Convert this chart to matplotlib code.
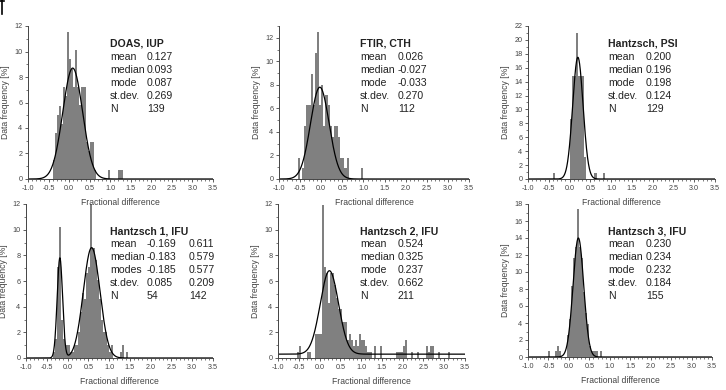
import matplotlib
matplotlib.use("Agg")
import matplotlib.pyplot as plt
import numpy as np
from matplotlib.ticker import MultipleLocator
from matplotlib.lines import Line2D

plt.rcParams['font.family'] = ['Liberation Sans', 'DejaVu Sans']

BIN = 0.05

# ---- Panel data (bin left edges, frequency %) ----
p1_left = [-0.40, -0.35, -0.30, -0.25, -0.20, -0.15, -0.10, -0.05, 0.00, 0.05, 0.10,
           0.15, 0.20, 0.25, 0.30, 0.35, 0.40, 0.45, 0.50, 0.55, 0.60, 0.95, 1.20, 1.25]
p1_freq = [1.5, 3.6, 5.0, 5.7, 4.3, 7.2, 6.5, 11.5, 9.4, 8.6, 7.2,
           10.1, 7.2, 5.8, 7.2, 7.2, 2.9, 2.2, 2.9, 2.9, 0.7, 0.7, 0.7, 0.7]

p2_left = [-0.55, -0.45, -0.40, -0.35, -0.30, -0.25, -0.20, -0.15, -0.10, -0.05, 0.00,
           0.05, 0.10, 0.15, 0.20, 0.25, 0.30, 0.35, 0.40, 0.45, 0.50, 0.55, 0.60, 0.95]
p2_freq = [1.8, 0.9, 4.5, 6.3, 6.3, 8.9, 6.3, 10.7, 12.5, 6.3, 8.0,
           4.5, 7.1, 6.3, 4.5, 3.6, 4.5, 4.5, 3.6, 1.8, 1.8, 0.9, 1.8, 0.9]

p3_left = [-0.40, 0.00, 0.05, 0.10, 0.15, 0.20, 0.25, 0.30, 0.35, 0.60, 0.80]
p3_freq = [0.8, 8.6, 14.8, 14.8, 21.0, 14.8, 14.8, 14.8, 3.1, 0.8, 0.8]

p4_left = [-0.35, -0.30, -0.25, -0.20, -0.15, -0.10, -0.05, 0.00, 0.05, 0.10, 0.15,
           0.20, 0.25, 0.30, 0.35, 0.40, 0.45, 0.50, 0.55, 0.60, 0.65, 0.70, 0.75,
           0.80, 0.85, 0.90, 0.95, 1.00, 1.05, 1.25, 1.30, 1.40]
p4_freq = [0.5, 1.5, 7.1, 10.2, 3.0, 1.5, 1.0, 1.0, 0.5, 0.5, 1.0,
           1.0, 2.0, 3.6, 5.1, 4.6, 6.6, 7.1, 12.0, 8.6, 7.6, 6.1, 4.6,
           3.0, 2.0, 2.0, 1.0, 0.5, 1.0, 0.5, 1.0, 0.5]

p5_left = [-0.55, -0.50, -0.30, -0.25, -0.10, -0.05, 0.00, 0.05, 0.10, 0.15, 0.20,
           0.25, 0.30, 0.35, 0.40, 0.45, 0.50, 0.55, 0.60, 0.65, 0.70, 0.75, 0.80,
           0.85, 0.90, 0.95, 1.00, 1.05, 1.10, 1.15, 1.20, 1.30, 1.45, 1.85, 1.90,
           1.95, 2.00, 2.05, 2.20, 2.35, 2.55, 2.60, 2.65, 2.70, 2.85, 3.10]
p5_freq = [0.5, 0.9, 0.5, 0.5, 1.9, 1.9, 1.9, 11.9, 7.1, 6.6, 4.3,
           6.6, 6.6, 5.7, 4.7, 3.8, 3.8, 2.8, 2.8, 1.4, 1.9, 1.4, 0.9,
           1.4, 0.9, 1.9, 1.4, 1.4, 0.9, 0.5, 0.5, 0.9, 0.9, 0.5, 0.5,
           0.5, 0.9, 1.4, 0.5, 0.5, 0.9, 0.5, 0.9, 0.9, 0.5, 0.5]

p6_left = [-0.50, -0.35, -0.30, -0.25, -0.05, 0.00, 0.05, 0.10, 0.15, 0.20, 0.25,
           0.30, 0.35, 0.40, 0.45, 0.50, 0.55, 0.60, 0.65, 0.75]
p6_freq = [0.65, 0.65, 1.3, 0.65, 2.6, 4.5, 8.4, 11.6, 12.9, 17.4, 12.9,
           11.6, 7.7, 5.2, 3.9, 1.3, 0.65, 0.65, 0.65, 0.65]

# Gaussian fits: (center, amplitude, sigma, offset)
fit1 = [(0.087, 8.7, 0.24, 0.0)]
fit2 = [(-0.033, 7.8, 0.22, 0.0)]
fit3 = [(0.200, 17.5, 0.125, 0.0)]
fit4 = [(-0.185, 7.8, 0.065, 0.0), (0.58, 8.6, 0.20, 0.0)]
fit5 = [(0.237, 6.5, 0.22, 0.3)]
fit6 = [(0.232, 14.0, 0.13, 0.0)]

titles = ["DOAS, IUP", "FTIR, CTH", "Hantzsch, PSI",
          "Hantzsch 1, IFU", "Hantzsch 2, IFU", "Hantzsch 3, IFU"]
stat_names = ["mean", "median", "mode", "st.dev.", "N"]
stat_names4 = ["mean", "median", "modes", "st.dev.", "N"]
stats1 = ["0.127", "0.093", "0.087", "0.269", "139"]
stats2 = ["0.026", "-0.027", "-0.033", "0.270", "112"]
stats3 = ["0.200", "0.196", "0.198", "0.124", "129"]
stats4a = ["-0.169", "-0.183", "-0.185", "0.085", "54"]
stats4b = ["0.611", "0.579", "0.577", "0.209", "142"]
stats5 = ["0.524", "0.325", "0.237", "0.662", "211"]
stats6 = ["0.230", "0.234", "0.232", "0.184", "155"]

ymax = [12, 13, 22, 12, 12, 18]

W, H = 726, 390
fig = plt.figure(figsize=(W / 100, H / 100), dpi=100)

# axes boxes in pixels: (left, right, top, bottom)
boxes = [(28, 213, 26, 179), (279, 469, 26, 179), (528, 715, 26, 179),
         (26, 213, 204, 358), (278, 465, 204, 358), (528, 712, 204, 357)]
# text anchor pixels: (title_x, title_y, values_x)
txtpos = [(110, 44, 147), (360, 44, 398), (608, 44, 646),
          (110, 231, 147), (360, 231, 398), (608, 231, 646)]

lefts = [p1_left, p2_left, p3_left, p4_left, p5_left, p6_left]
freqs = [p1_freq, p2_freq, p3_freq, p4_freq, p5_freq, p6_freq]
fits = [fit1, fit2, fit3, fit4, fit5, fit6]
stats = [stats1, stats2, stats3, stats4a, stats5, stats6]

bar_color = '#808080'
txt_color = '#222222'
ax_color = '#444444'
xs = np.linspace(-1.0, 3.5, 1200)

for i in range(6):
    l, r, t, b = boxes[i]
    ax = fig.add_axes([l / W, 1 - b / H, (r - l) / W, (b - t) / H])
    ax.set_facecolor('none')
    ax.set_zorder(10 - i)
    ax.bar(lefts[i], freqs[i], width=BIN, align='edge', color=bar_color, linewidth=0)
    curve = np.zeros_like(xs)
    off = 0.0
    for (c, a, s, o) in fits[i]:
        curve += a * np.exp(-(xs - c) ** 2 / (2 * s ** 2))
        off = o
    ax.plot(xs, curve + off, color='black', lw=0.9)
    ax.set_xlim(-1.0, 3.5)
    ax.set_ylim(0, ymax[i])
    ax.spines['top'].set_visible(False)
    ax.spines['right'].set_visible(False)
    for sp in ['left', 'bottom']:
        ax.spines[sp].set_linewidth(0.7)
        ax.spines[sp].set_color(ax_color)
    ax.xaxis.set_major_locator(MultipleLocator(0.5))
    ax.xaxis.set_minor_locator(MultipleLocator(0.1))
    ax.yaxis.set_major_locator(MultipleLocator(2))
    ax.yaxis.set_minor_locator(MultipleLocator(1))
    ax.xaxis.set_major_formatter(plt.FuncFormatter(lambda v, p: f"{v:.1f}"))
    ax.tick_params(which='major', length=2.5, width=0.6, labelsize=5.2, pad=1.5,
                   colors=ax_color, labelcolor='#444444')
    ax.tick_params(which='minor', length=1.3, width=0.5, colors=ax_color)
    ax.set_xlabel("Fractional difference", fontsize=6.2, labelpad=4.5, color='#444444')
    ax.set_ylabel("Data frequency [%]", fontsize=6.2, labelpad=3, color='#444444')

    tx, ty, vx = txtpos[i]
    fig.text(tx / W, 1 - ty / H, titles[i], fontsize=7.6, fontweight='bold',
             ha='left', va='center', color=txt_color)
    names = stat_names4 if i == 3 else stat_names
    for k in range(5):
        yy = ty + 13 * (k + 1)
        fig.text(tx / W, 1 - yy / H, names[k], fontsize=7.6, ha='left', va='center',
                 color=txt_color)
        fig.text(vx / W, 1 - yy / H, stats[i][k], fontsize=7.6, ha='left', va='center',
                 color=txt_color)
        if i == 3:
            fig.text(189 / W, 1 - yy / H, stats4b[k], fontsize=7.6, ha='left',
                     va='center', color=txt_color)

# small corner mark in the original
fig.add_artist(Line2D([1.5 / W, 1.5 / W], [1, 1 - 14 / H], color='black', lw=1.2))
fig.add_artist(Line2D([0, 4 / W], [1 - 0.5 / H, 1 - 0.5 / H], color='black', lw=1.2))

fig.savefig("out.png", dpi=100)
